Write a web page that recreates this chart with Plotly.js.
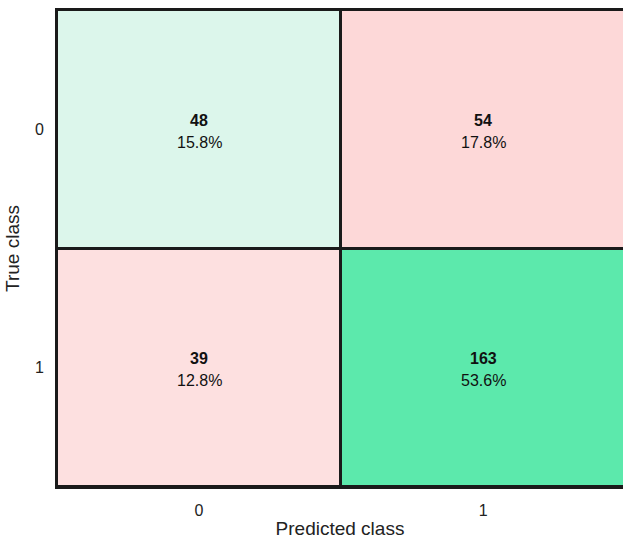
<!DOCTYPE html>
<html>
<head>
<meta charset="utf-8">
<script src="https://cdn.plot.ly/plotly-3.0.1.min.js"></script>
<style>html,body{margin:0;padding:0;background:#fff;}#chart{width:623px;height:539px;}</style>
</head>
<body>
<div id="chart"></div>
<script>
// Confusion matrix: rows = true class, columns = predicted class
const classLabels = ['0', '1'];
const counts = [
  [48, 54],
  [39, 163]
];
const percents = [
  ['15.8%', '17.8%'],
  ['12.8%', '53.6%']
];

// Cell fill: correct predictions in green shades, errors in red shades
const cellColors = [
  ['#dcf6eb', '#fdd8d8'],
  ['#fde0e0', '#5ce9ac']
];

// Each cell gets its own colour index so the heatmap paints it exactly
const flatColors = [];
const zIndex = counts.map((row, i) => row.map((v, j) => {
  flatColors.push(cellColors[i][j]);
  return flatColors.length - 1;
}));
const n = flatColors.length;
const colorscale = [];
flatColors.forEach((c, k) => {
  colorscale.push([k / n, c]);
  colorscale.push([Math.min((k + 1) / n, 1), c]);
});

const trace = {
  type: 'heatmap',
  x: classLabels,
  y: classLabels,
  z: zIndex,
  zmin: -0.5,
  zmax: n - 0.5,
  colorscale: colorscale,
  showscale: false,
  xgap: 3,
  ygap: 3,
  hoverinfo: 'skip'
};

const cellFont = {family: 'Liberation Sans, Arial, sans-serif', size: 16, color: '#111'};
const annotations = [];
counts.forEach((row, i) => row.forEach((v, j) => {
  annotations.push({
    x: classLabels[j], y: classLabels[i], xref: 'x', yref: 'y',
    text: '<b>' + v + '</b>', showarrow: false, yshift: 9, font: cellFont
  });
  annotations.push({
    x: classLabels[j], y: classLabels[i], xref: 'x', yref: 'y',
    text: percents[i][j], showarrow: false, yshift: -13, font: cellFont
  });
}));

const layout = {
  width: 623,
  height: 539,
  margin: {l: 57, r: 0, t: 10, b: 52},
  paper_bgcolor: '#ffffff',
  plot_bgcolor: '#1a1a1a',
  font: {family: 'Liberation Sans, Arial, sans-serif', color: '#222'},
  xaxis: {
    type: 'category',
    range: [-0.5, 1.492],
    title: {text: 'Predicted class', font: {size: 19, color: '#222'}, standoff: 6},
    tickfont: {size: 16, color: '#222'},
    ticklabelstandoff: 8,
    showline: true, linecolor: '#1a1a1a', linewidth: 2, mirror: true,
    ticks: '', showgrid: false, zeroline: false
  },
  yaxis: {
    type: 'category',
    autorange: 'reversed',
    title: {text: 'True class', font: {size: 19, color: '#222'}, standoff: 10},
    tickfont: {size: 16, color: '#222'},
    ticklabelstandoff: 8,
    showline: true, linecolor: '#1a1a1a', linewidth: 2, mirror: false,
    ticks: '', showgrid: false, zeroline: false
  },
  annotations: annotations
};

Plotly.newPlot('chart', [trace], layout, {displayModeBar: false, staticPlot: true});
</script>
</body>
</html>
